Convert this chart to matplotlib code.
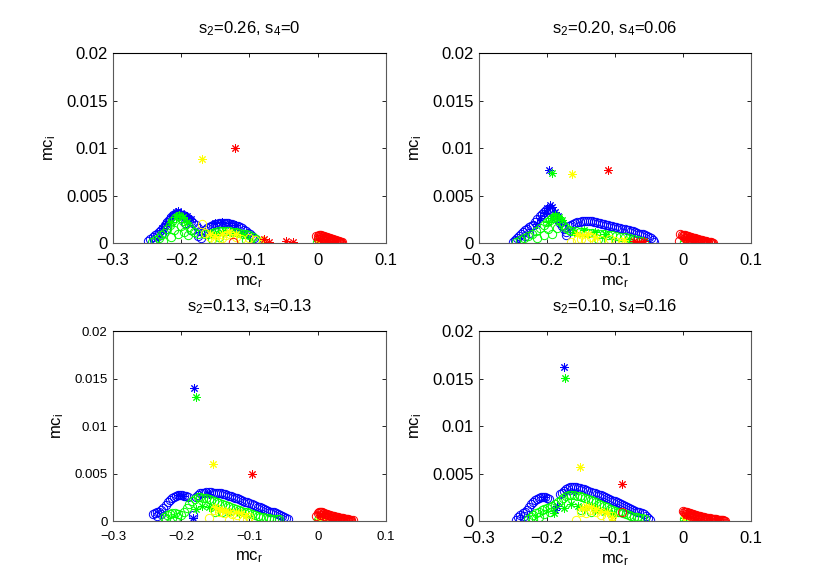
import matplotlib
matplotlib.use("Agg")
import matplotlib.pyplot as plt
import numpy as np

plt.rcParams['font.family'] = 'Liberation Sans'
plt.rcParams['mathtext.fontset'] = 'custom'
plt.rcParams['mathtext.rm'] = 'Liberation Sans'
plt.rcParams['mathtext.it'] = 'Liberation Sans:italic'

titles = ['$\\mathregular{s_2}$=0.26, $\\mathregular{s_4}$=0',
          '$\\mathregular{s_2}$=0.20, $\\mathregular{s_4}$=0.06',
          '$\\mathregular{s_2}$=0.13, $\\mathregular{s_4}$=0.13',
          '$\\mathregular{s_2}$=0.10, $\\mathregular{s_4}$=0.16']
xticks = [-0.3, -0.2, -0.1, 0, 0.1]
xticklabels = ['\u22120.3', '\u22120.2', '\u22120.1', '0', '0.1']
yticks = [0, 0.005, 0.01, 0.015, 0.02]
yticklabels = ['0', '0.005', '0.01', '0.015', '0.02']

# ---- panel 1 : s2=0.26, s4=0 ----
p1_blue_o = [(-0.248,0.0002),(-0.245,0.0004),(-0.242,0.0006),(-0.239,0.0008),(-0.236,0.0010),(-0.233,0.0012),
             (-0.230,0.0014),(-0.227,0.0016),(-0.224,0.0019),(-0.221,0.0022),(-0.218,0.0024),(-0.215,0.0027),
             (-0.212,0.0029),(-0.209,0.0031),(-0.206,0.0032),(-0.203,0.0031),(-0.200,0.0030),(-0.197,0.0029),
             (-0.194,0.0028),(-0.191,0.0026),(-0.188,0.0025),(-0.185,0.0023),(-0.182,0.0021),(-0.179,0.0019),
             (-0.176,0.0016),(-0.173,0.0013),(-0.240,0.0003),(-0.234,0.0007),(-0.228,0.0011),(-0.222,0.0015),
             (-0.168,0.0012),(-0.165,0.0014),(-0.162,0.0016),(-0.159,0.0017),(-0.156,0.0018),(-0.153,0.0019),
             (-0.150,0.0020),(-0.147,0.0020),(-0.144,0.0021),(-0.141,0.0021),(-0.138,0.0021),(-0.135,0.0021),
             (-0.132,0.0021),(-0.129,0.0020),(-0.126,0.0020),(-0.123,0.0019),(-0.120,0.0018),(-0.117,0.0018),
             (-0.114,0.0017),(-0.111,0.0016),(-0.108,0.0014),(-0.105,0.0013),(-0.102,0.0011),(-0.099,0.0009),
             (-0.096,0.0007),(-0.093,0.0005),(-0.090,0.0003),(-0.176,0.0007),(-0.171,0.0005),(-0.186,0.0014),
             (-0.195,0.0021)]
p1_blue_s = [(-0.228,0.0016),(-0.222,0.0021),(-0.217,0.0026),(-0.212,0.0030),(-0.208,0.0033),(-0.204,0.0034),
             (-0.200,0.0032),(-0.196,0.0030),(-0.191,0.0028),(-0.186,0.0025),(-0.150,0.0021),(-0.140,0.0022),
             (-0.130,0.0021),(-0.120,0.0019)]
p1_green_o = [(-0.243,0.0001),(-0.238,0.0003),(-0.233,0.0005),(-0.229,0.0008),(-0.225,0.0011),(-0.221,0.0015),
              (-0.217,0.0019),(-0.213,0.0023),(-0.209,0.0026),(-0.205,0.0028),(-0.201,0.0026),(-0.197,0.0023),
              (-0.193,0.0020),(-0.189,0.0017),(-0.185,0.0014),(-0.181,0.0012),(-0.176,0.0010),(-0.226,0.0002),
              (-0.215,0.0006),(-0.205,0.0009),(-0.196,0.0012),(-0.190,0.0008),(-0.210,0.0014),(-0.200,0.0018),
              (-0.165,0.0009),(-0.160,0.0010),(-0.155,0.0011),(-0.150,0.0012),(-0.145,0.0013),(-0.140,0.0013),
              (-0.135,0.0013),(-0.130,0.0013),(-0.125,0.0012),(-0.120,0.0012),(-0.115,0.0011),(-0.110,0.0010),
              (-0.105,0.0009),(-0.100,0.0008),(-0.095,0.0006),(-0.090,0.0004),(-0.087,0.0001),(-0.155,0.0004),
              (-0.145,0.0006),(-0.105,0.0003),(-0.001,0.0001)]
p1_green_s = [(-0.215,0.0022),(-0.208,0.0027),(-0.203,0.0030),(-0.198,0.0027),(-0.192,0.0022),(-0.150,0.0011),
              (-0.140,0.0012),(-0.130,0.0012),(-0.120,0.0011),(-0.110,0.0009),(0.001,0.0002)]
p1_yellow_o = [(-0.170,0.0020),(-0.165,0.0011),(-0.158,0.0006),(-0.150,0.0003),(-0.145,0.0001),(-0.140,0.0005),
               (-0.135,0.0008),(-0.128,0.0009),(-0.120,0.0006),(-0.112,0.0004),(-0.100,0.0005),(-0.092,0.0003),
               (0.004,0.0001),(0.007,0.0000)]
p1_yellow_s = [(-0.170,0.0088),(-0.158,0.0009),(-0.150,0.0007),(-0.140,0.0010),(-0.130,0.0012),(-0.120,0.0009),
               (-0.080,0.0003),(0.003,0.0002)]
p1_red_o = [(-0.124,0.0001),(-0.003,0.0007),(0.000,0.0004),(0.001,0.0007),(0.002,0.0008),(0.003,0.0008),
            (0.0045,0.0008),(0.006,0.0007),(0.0075,0.0007),(0.009,0.0007),(0.0105,0.0006),(0.012,0.0006),
            (0.0135,0.0006),(0.015,0.0005),(0.0165,0.0005),(0.018,0.0005),(0.0195,0.0004),(0.021,0.0004),
            (0.0225,0.0004),(0.024,0.0003),(0.0255,0.0003),(0.027,0.0003),(0.0285,0.0002),(0.030,0.0002),
            (0.0315,0.0002),(0.033,0.0001),(0.0345,0.0001),(0.036,0.0001),
            (0.0035,0.0006),(0.0065,0.0005),(0.0095,0.0005),(0.0125,0.0004),(0.0155,0.0004),(0.0185,0.0003),
            (0.0215,0.0003),(0.0245,0.0002),(0.0275,0.0002),(0.0305,0.0001),(0.0335,0.0000)]
p1_red_s = [(-0.121,0.0100),(-0.078,0.0004),(-0.071,0.0001),(-0.047,0.0002),(-0.036,0.0001),(0.004,0.0004)]

# ---- panel 2 : s2=0.20, s4=0.06 ----
p2_blue_o = [(-0.250,0.0001),(-0.247,0.0003),(-0.244,0.0005),(-0.241,0.0007),(-0.238,0.0010),(-0.235,0.0012),
             (-0.232,0.0014),(-0.229,0.0015),(-0.226,0.0017),(-0.223,0.0018),(-0.220,0.0019),(-0.217,0.0022),
             (-0.214,0.0025),(-0.211,0.0028),(-0.208,0.0031),(-0.205,0.0033),(-0.202,0.0035),(-0.199,0.0036),
             (-0.196,0.0035),(-0.193,0.0033),(-0.190,0.0030),(-0.187,0.0027),(-0.184,0.0024),(-0.181,0.0021),
             (-0.178,0.0018),(-0.175,0.0015),(-0.172,0.0012),(-0.245,0.0002),(-0.238,0.0004),(-0.232,0.0007),
             (-0.226,0.0011),(-0.172,0.0008),
             (-0.168,0.0018),(-0.165,0.0019),(-0.162,0.0020),(-0.159,0.0021),(-0.156,0.0022),(-0.152,0.0022),
             (-0.149,0.0023),(-0.146,0.0023),(-0.143,0.0023),(-0.140,0.0023),(-0.137,0.0023),(-0.134,0.0023),
             (-0.131,0.0022),(-0.128,0.0022),(-0.125,0.0021),(-0.122,0.0021),(-0.119,0.0020),(-0.116,0.0020),
             (-0.113,0.0019),(-0.110,0.0019),(-0.107,0.0018),(-0.104,0.0018),(-0.101,0.0017),(-0.098,0.0017),
             (-0.095,0.0016),(-0.092,0.0016),(-0.089,0.0015),(-0.086,0.0015),(-0.083,0.0014),(-0.080,0.0014),
             (-0.077,0.0013),(-0.074,0.0013),(-0.071,0.0012),(-0.068,0.0011),(-0.065,0.0010),(-0.062,0.0010),
             (-0.059,0.0009),(-0.056,0.0008),(-0.053,0.0007),(-0.050,0.0006),(-0.047,0.0005),(-0.044,0.0003),
             (-0.042,0.0001)]
p2_blue_s = [(-0.197,0.0077),(-0.215,0.0020),(-0.210,0.0026),(-0.205,0.0032),(-0.200,0.0037),(-0.196,0.0040),
             (-0.192,0.0038),(-0.188,0.0033),(-0.184,0.0028),(-0.180,0.0022)]
p2_green_o = [(-0.246,0.0001),(-0.240,0.0003),(-0.234,0.0005),(-0.228,0.0007),(-0.222,0.0010),(-0.216,0.0013),
              (-0.210,0.0016),(-0.205,0.0019),(-0.200,0.0022),(-0.196,0.0024),(-0.192,0.0026),(-0.188,0.0027),
              (-0.184,0.0025),(-0.180,0.0022),(-0.176,0.0019),(-0.172,0.0016),(-0.168,0.0014),(-0.205,0.0008),
              (-0.198,0.0015),(-0.192,0.0010),(-0.185,0.0016),(-0.215,0.0005),
              (-0.164,0.0013),(-0.158,0.0013),(-0.152,0.0012),(-0.146,0.0012),(-0.140,0.0011),(-0.134,0.0011),
              (-0.128,0.0010),(-0.122,0.0010),(-0.116,0.0009),(-0.110,0.0008),(-0.104,0.0008),(-0.098,0.0007),
              (-0.092,0.0006),(-0.086,0.0006),(-0.080,0.0005),(-0.074,0.0004),(-0.068,0.0003),(-0.062,0.0002),
              (-0.058,0.0001),(-0.125,0.0004),(-0.110,0.0003),(0.001,0.0001)]
p2_green_s = [(-0.192,0.0074),(-0.198,0.0022),(-0.193,0.0026),(-0.188,0.0029),(-0.183,0.0027),(-0.178,0.0024),
              (-0.160,0.0012),(-0.145,0.0014),(-0.130,0.0012),(-0.115,0.0010),(-0.080,0.0004),(0.003,0.0002)]
p2_yellow_o = [(-0.165,0.0001),(-0.156,0.0003),(-0.150,0.0004),(-0.142,0.0002),(-0.135,0.0006),(-0.128,0.0001),
               (-0.120,0.0003),(-0.108,0.0004),(-0.100,0.0002),(-0.090,0.0001),(0.006,0.0001),(0.010,0.0000)]
p2_yellow_s = [(-0.163,0.0073),(-0.156,0.0010),(-0.148,0.0008),(-0.140,0.0009),(-0.130,0.0006),(-0.087,0.0003),
               (0.004,0.0002)]
p2_red_o = [(-0.006,0.0002),(-0.004,0.0010),(-0.002,0.0008),(0.0,0.0007),(0.0015,0.0008),(0.003,0.0008),
            (0.0045,0.0007),(0.006,0.0007),(0.0075,0.0007),(0.009,0.0006),(0.0105,0.0006),(0.012,0.0006),
            (0.0135,0.0005),(0.015,0.0005),(0.0165,0.0005),(0.018,0.0005),(0.0195,0.0004),(0.021,0.0004),
            (0.0225,0.0004),(0.024,0.0003),(0.0255,0.0003),(0.027,0.0003),(0.0285,0.0003),(0.030,0.0002),
            (0.0315,0.0002),(0.033,0.0002),(0.0345,0.0002),(0.036,0.0001),(0.0375,0.0001),(0.039,0.0001),
            (0.0405,0.0001),(0.042,0.0000),(0.0435,0.0000),
            (0.0035,0.0005),(0.0065,0.0005),(0.0095,0.0004),(0.0125,0.0004),(0.0155,0.0003),(0.0185,0.0003),
            (0.0215,0.0002),(0.0245,0.0002),(0.0275,0.0002),(0.0305,0.0001),(0.0335,0.0001),(0.0365,0.0000),
            (0.0395,0.0000)]
p2_red_s = [(-0.110,0.0077),(-0.072,0.0002),(-0.065,0.0001),(-0.058,0.0002),(0.004,0.0005)]

# ---- panel 3 : s2=0.13, s4=0.13 ----
p3_blue_o = [(-0.241,0.0007),(-0.238,0.0008),(-0.235,0.0009),(-0.232,0.0010),(-0.229,0.0012),(-0.226,0.0014),
             (-0.223,0.0017),(-0.220,0.0020),(-0.217,0.0022),(-0.214,0.0024),(-0.211,0.0025),(-0.208,0.0026),
             (-0.205,0.0027),(-0.202,0.0027),(-0.199,0.0027),(-0.196,0.0026),(-0.193,0.0026),(-0.190,0.0025),
             (-0.236,0.0005),(-0.230,0.0007),(-0.182,0.0006),
             (-0.178,0.0025),(-0.175,0.0027),(-0.172,0.0029),(-0.169,0.0030),(-0.166,0.0030),(-0.163,0.0031),
             (-0.160,0.0031),(-0.157,0.0031),(-0.154,0.0030),(-0.151,0.0030),(-0.148,0.0030),(-0.145,0.0029),
             (-0.142,0.0029),(-0.139,0.0028),(-0.136,0.0028),(-0.133,0.0027),(-0.130,0.0026),(-0.127,0.0026),
             (-0.124,0.0025),(-0.121,0.0024),(-0.118,0.0024),(-0.115,0.0023),(-0.112,0.0022),(-0.109,0.0021),
             (-0.106,0.0020),(-0.103,0.0020),(-0.100,0.0019),(-0.097,0.0018),(-0.094,0.0017),(-0.091,0.0016),
             (-0.088,0.0015),(-0.085,0.0015),(-0.082,0.0014),(-0.079,0.0013),(-0.076,0.0012),(-0.073,0.0011),
             (-0.070,0.0010),(-0.067,0.0009),(-0.064,0.0009),(-0.061,0.0008),(-0.058,0.0007),(-0.055,0.0006),
             (-0.052,0.0005),(-0.049,0.0004),(-0.046,0.0003),(-0.043,0.0002)]
p3_blue_s = [(-0.181,0.0140),(-0.182,0.0003),(-0.205,0.0027),(-0.198,0.0026),(-0.160,0.0028)]
p3_green_o = [(-0.225,0.0004),(-0.221,0.0006),(-0.217,0.0007),(-0.213,0.0008),(-0.209,0.0008),(-0.205,0.0007),
              (-0.201,0.0006),(-0.222,0.0002),(-0.214,0.0003),(-0.206,0.0004),(-0.196,0.0010),(-0.192,0.0014),
              (-0.188,0.0018),(-0.184,0.0021),(-0.180,0.0023),
              (-0.176,0.0025),(-0.172,0.0025),(-0.168,0.0024),(-0.164,0.0024),(-0.160,0.0023),(-0.156,0.0022),
              (-0.152,0.0021),(-0.148,0.0020),(-0.144,0.0019),(-0.140,0.0018),(-0.136,0.0017),(-0.132,0.0016),
              (-0.128,0.0015),(-0.124,0.0014),(-0.120,0.0013),(-0.116,0.0012),(-0.112,0.0011),(-0.108,0.0010),
              (-0.104,0.0009),(-0.100,0.0008),(-0.096,0.0007),(-0.092,0.0006),(-0.088,0.0005),(-0.084,0.0004),
              (-0.080,0.0004),(-0.076,0.0003),(-0.072,0.0003),(-0.068,0.0002),(-0.064,0.0002),(-0.060,0.0002),
              (-0.056,0.0002),(-0.150,0.0010),(-0.140,0.0009),(0.000,0.0001)]
p3_green_s = [(-0.179,0.0131),(-0.178,0.0013),(-0.170,0.0016),(-0.160,0.0015),(-0.150,0.0014),(-0.140,0.0012),
              (-0.130,0.0010),(-0.115,0.0008),(-0.105,0.0006),(0.002,0.0002)]
p3_yellow_o = [(-0.160,0.0003),(-0.152,0.0012),(-0.145,0.0009),(-0.138,0.0008),(-0.130,0.0001),(-0.125,0.0007),
               (-0.118,0.0006),(-0.110,0.0001),(-0.104,0.0002),(-0.100,0.0004),(0.004,0.0003),(0.008,0.0002),
               (0.012,0.0001),(0.016,0.0001)]
p3_yellow_s = [(-0.154,0.0060),(-0.150,0.0015),(-0.145,0.0013),(-0.140,0.0012),(-0.135,0.0011),(-0.128,0.0010),
               (-0.120,0.0009),(-0.112,0.0008),(-0.105,0.0006),(0.003,0.0004)]
p3_red_o = [(-0.002,0.0005),(0.0,0.0008),(0.0015,0.0009),(0.003,0.0010),(0.0045,0.0009),(0.006,0.0009),
            (0.0075,0.0008),(0.009,0.0008),(0.0105,0.0007),(0.012,0.0007),(0.0135,0.0007),(0.015,0.0006),
            (0.0165,0.0006),(0.018,0.0006),(0.0195,0.0005),(0.021,0.0005),(0.0225,0.0005),(0.024,0.0005),
            (0.0255,0.0004),(0.027,0.0004),(0.0285,0.0004),(0.030,0.0004),(0.0315,0.0003),(0.033,0.0003),
            (0.0345,0.0003),(0.036,0.0003),(0.0375,0.0003),(0.039,0.0002),(0.0405,0.0002),(0.042,0.0002),
            (0.0435,0.0002),(0.045,0.0002),(0.0465,0.0001),(0.048,0.0001),(0.0495,0.0001),(0.051,0.0001),
            (0.0045,0.0006),(0.0085,0.0005),(0.0125,0.0004),(0.0165,0.0004),(0.0205,0.0003),(0.0245,0.0003),
            (0.0285,0.0002),(0.0325,0.0002),(0.0365,0.0001),(0.0405,0.0001),(0.0445,0.0000),(0.0485,0.0000)]
p3_red_s = [(-0.097,0.0049),(0.003,0.0006)]

# ---- panel 4 : s2=0.10, s4=0.16 ----
p4_blue_o = [(-0.245,0.0001),(-0.242,0.0004),(-0.239,0.0006),(-0.236,0.0008),(-0.233,0.0010),(-0.230,0.0012),
             (-0.227,0.0015),(-0.224,0.0018),(-0.221,0.0020),(-0.218,0.0022),(-0.215,0.0023),(-0.212,0.0024),
             (-0.209,0.0025),(-0.206,0.0025),(-0.203,0.0025),(-0.200,0.0024),(-0.197,0.0023),(-0.240,0.0002),
             (-0.234,0.0005),
             (-0.181,0.0028),(-0.178,0.0030),(-0.175,0.0032),(-0.172,0.0034),(-0.169,0.0035),(-0.166,0.0036),
             (-0.163,0.0036),(-0.160,0.0036),(-0.157,0.0036),(-0.154,0.0035),(-0.151,0.0035),(-0.148,0.0034),
             (-0.145,0.0034),(-0.142,0.0033),(-0.139,0.0032),(-0.136,0.0031),(-0.133,0.0030),(-0.130,0.0029),
             (-0.127,0.0028),(-0.124,0.0027),(-0.121,0.0027),(-0.118,0.0026),(-0.115,0.0025),(-0.112,0.0024),
             (-0.109,0.0023),(-0.106,0.0022),(-0.103,0.0021),(-0.100,0.0021),(-0.097,0.0020),(-0.094,0.0019),
             (-0.091,0.0018),(-0.088,0.0017),(-0.085,0.0016),(-0.082,0.0015),(-0.079,0.0014),(-0.076,0.0013),
             (-0.073,0.0012),(-0.070,0.0011),(-0.067,0.0010),(-0.064,0.0009),(-0.061,0.0008),(-0.058,0.0007),
             (-0.055,0.0005),(-0.052,0.0003),(-0.049,0.0001)]
p4_blue_s = [(-0.175,0.0162),(-0.188,0.0012),(-0.186,0.0016),(-0.205,0.0025),(-0.170,0.0031),(-0.160,0.0032)]
p4_green_o = [(-0.228,0.0002),(-0.224,0.0004),(-0.220,0.0006),(-0.216,0.0008),(-0.212,0.0010),(-0.208,0.0012),
              (-0.204,0.0013),(-0.200,0.0014),(-0.196,0.0015),(-0.192,0.0016),(-0.188,0.0018),(-0.184,0.0020),
              (-0.180,0.0022),(-0.176,0.0024),(-0.220,0.0002),(-0.212,0.0004),(-0.204,0.0007),(-0.196,0.0009),
              (-0.172,0.0026),(-0.168,0.0027),(-0.164,0.0027),(-0.160,0.0027),(-0.156,0.0026),(-0.152,0.0026),
              (-0.148,0.0025),(-0.144,0.0024),(-0.140,0.0023),(-0.136,0.0022),(-0.132,0.0021),(-0.128,0.0020),
              (-0.124,0.0018),(-0.120,0.0017),(-0.116,0.0016),(-0.112,0.0015),(-0.108,0.0013),(-0.104,0.0012),
              (-0.100,0.0011),(-0.096,0.0010),(-0.092,0.0009),(-0.088,0.0008),(-0.084,0.0007),(-0.080,0.0006),
              (-0.076,0.0005),(-0.072,0.0004),(-0.068,0.0004),(-0.064,0.0003),(-0.060,0.0003),(-0.056,0.0002),
              (-0.150,0.0012),(-0.135,0.0010),(0.001,0.0002)]
p4_green_s = [(-0.174,0.0151),(-0.190,0.0008),(-0.175,0.0014),(-0.165,0.0018),(-0.155,0.0016),(-0.145,0.0014),
              (-0.130,0.0012),(-0.115,0.0009),(-0.105,0.0007),(0.002,0.0003)]
p4_yellow_o = [(-0.158,0.0001),(-0.150,0.0010),(-0.143,0.0008),(-0.135,0.0012),(-0.128,0.0009),(-0.120,0.0006),
               (-0.112,0.0003),(-0.105,0.0005),(0.004,0.0004),(0.008,0.0002),(0.013,0.0001),(0.018,0.0001)]
p4_yellow_s = [(-0.152,0.0057),(-0.148,0.0014),(-0.142,0.0016),(-0.136,0.0015),(-0.128,0.0013),(-0.120,0.0011),
               (-0.112,0.0009),(-0.105,0.0004),(0.003,0.0005)]
p4_red_o = [(-0.089,0.0009),(0.0,0.0011),(0.0015,0.0010),(0.003,0.0010),(0.0045,0.0009),(0.006,0.0009),
            (0.0075,0.0008),(0.009,0.0008),(0.0105,0.0008),(0.012,0.0007),(0.0135,0.0007),(0.015,0.0007),
            (0.0165,0.0006),(0.018,0.0006),(0.0195,0.0006),(0.021,0.0005),(0.0225,0.0005),(0.024,0.0005),
            (0.0255,0.0005),(0.027,0.0004),(0.0285,0.0004),(0.030,0.0004),(0.0315,0.0004),(0.033,0.0003),
            (0.0345,0.0003),(0.036,0.0003),(0.0375,0.0003),(0.039,0.0003),(0.0405,0.0002),(0.042,0.0002),
            (0.0435,0.0002),(0.045,0.0002),(0.0465,0.0002),(0.048,0.0002),(0.0495,0.0001),(0.051,0.0001),
            (0.0525,0.0001),(0.054,0.0001),(0.0555,0.0001),(0.057,0.0001),(0.0585,0.0001),(0.060,0.0000),
            (0.0615,0.0000),
            (0.0045,0.0007),(0.0085,0.0006),(0.0125,0.0005),(0.0165,0.0005),(0.0205,0.0004),(0.0245,0.0003),
            (0.0285,0.0003),(0.0325,0.0002),(0.0365,0.0002),(0.0405,0.0001),(0.0445,0.0001),(0.0485,0.0000),
            (0.0525,0.0000)]
p4_red_s = [(-0.090,0.0039),(0.004,0.0006)]

panels = [
    [p1_blue_o, p1_blue_s, p1_green_o, p1_green_s, p1_yellow_o, p1_yellow_s, p1_red_o, p1_red_s],
    [p2_blue_o, p2_blue_s, p2_green_o, p2_green_s, p2_yellow_o, p2_yellow_s, p2_red_o, p2_red_s],
    [p3_blue_o, p3_blue_s, p3_green_o, p3_green_s, p3_yellow_o, p3_yellow_s, p3_red_o, p3_red_s],
    [p4_blue_o, p4_blue_s, p4_green_o, p4_green_s, p4_yellow_o, p4_yellow_s, p4_red_o, p4_red_s],
]
colors = ['#0000ff', '#0000ff', '#00ff00', '#00ff00', '#ffff00', '#ffff00', '#ff0000', '#ff0000']
markers = ['o', (8, 2, 0), 'o', (8, 2, 0), 'o', (8, 2, 0), 'o', (8, 2, 0)]

# axes rectangles (fig fraction), MATLAB-like 2x2 subplot
rects = [[0.1361, 0.586, 0.3289, 0.3237],
         [0.5771, 0.586, 0.3277, 0.3237],
         [0.1361, 0.1124, 0.3289, 0.3237],
         [0.5771, 0.1124, 0.3277, 0.3237]]
tick_sizes = [12, 12, 9.5, 12]

fig = plt.figure(figsize=(8.3, 5.87), dpi=100)
for k in range(4):
    ax = fig.add_axes(rects[k])
    for series, c, m in zip(panels[k], colors, markers):
        pts = np.array(series)
        ax.plot(pts[:, 0], pts[:, 1], linestyle='none', marker=m, markersize=6,
                markerfacecolor='none', markeredgecolor=c, markeredgewidth=0.7)
    ax.set_xlim(-0.3, 0.1)
    ax.set_ylim(0, 0.02)
    ax.set_xticks(xticks)
    ax.set_xticklabels(xticklabels)
    ax.set_yticks(yticks)
    ax.set_yticklabels(yticklabels)
    ax.tick_params(direction='in', length=3, width=0.6, top=True, right=True,
                   labelsize=tick_sizes[k])
    ax.tick_params(axis='x', pad=7)
    ax.tick_params(axis='y', pad=4)
    for side in ['left', 'bottom', 'right']:
        ax.spines[side].set_color('0.35')
        ax.spines[side].set_linewidth(0.8)
    ax.spines['top'].set_color('black')
    ax.spines['top'].set_linewidth(0.8)
    ax.set_title(titles[k], fontsize=12, pad=14)
    ax.set_xlabel('$\\mathregular{mc_r}$', fontsize=12, labelpad=5)
    ax.set_ylabel('$\\mathregular{mc_i}$', fontsize=12, labelpad=6)

fig.savefig('out.png', dpi=100)
